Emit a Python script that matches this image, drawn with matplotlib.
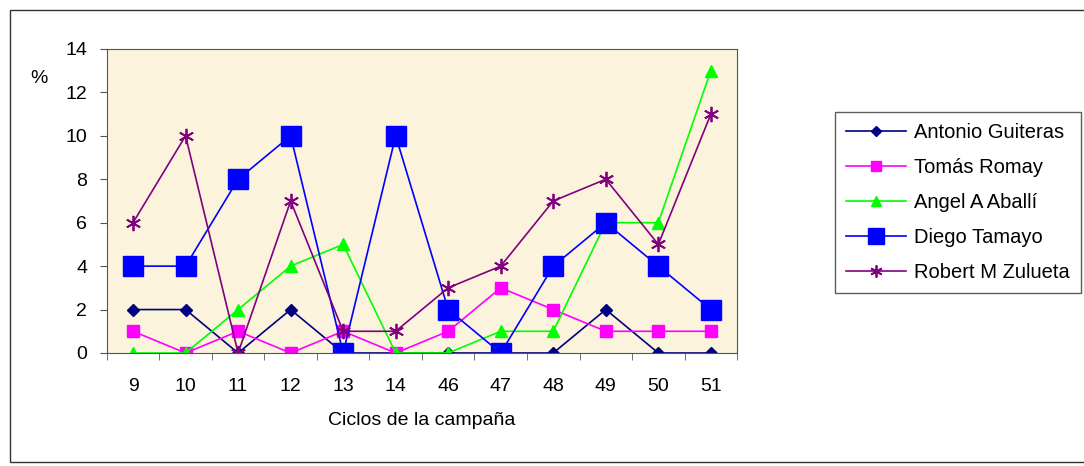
import numpy as np
import matplotlib
matplotlib.use("Agg")
import matplotlib.pyplot as plt
from matplotlib.patches import Rectangle

plt.rcParams['font.family'] = ['Liberation Sans', 'DejaVu Sans']

# data
ciclos = ['9', '10', '11', '12', '13', '14', '46', '47', '48', '49', '50', '51']
antonio = [2, 2, 0, 2, 0, 0, 0, 0, 0, 2, 0, 0]
tomas = [1, 0, 1, 0, 1, 0, 1, 3, 2, 1, 1, 1]
angel = [0, 0, 2, 4, 5, 0, 0, 1, 1, 6, 6, 13]
diego = [4, 4, 8, 10, 0, 10, 2, 0, 4, 6, 4, 2]
robert = [6, 10, 0, 7, 1, 1, 3, 4, 7, 8, 5, 11]

fig = plt.figure(figsize=(10.84, 4.66), dpi=100)
ax = fig.add_axes([0.0985, 0.2425, 0.5815, 0.6525])
ax.set_facecolor('#fbf3dc')

# outer chart frame
fig.patches.append(Rectangle((0.009, 0.008), 1.2, 0.97, transform=fig.transFigure,
                             fill=False, edgecolor='#333333', lw=1.0))

x = np.arange(len(ciclos)) + 0.5
ax.plot(x, antonio, color='#000080', marker='D', ms=6.5, lw=1.2, label='Antonio Guiteras')
ax.plot(x, tomas, color='#ff00ff', marker='s', ms=9, lw=1.2, label='Tomás Romay')
ax.plot(x, angel, color='#00ff00', marker='^', ms=9, lw=1.2, label='Angel A Aballí')
ax.plot(x, diego, color='#0000ff', marker='s', ms=14, lw=1.2, label='Diego Tamayo')
ax.plot(x, robert, color='#800080', marker=(6, 2, 0), ms=11, mew=1.3, lw=1.2,
        label='Robert M Zulueta')

ax.set_xlim(0, len(ciclos))
ax.set_ylim(0, 14)
ax.set_yticks(range(0, 15, 2))
ax.set_xticks(x)
ax.set_xticklabels(ciclos)
ax.set_xticks(np.arange(len(ciclos) + 1), minor=True)
ax.tick_params(axis='x', which='major', length=0, pad=18, labelsize=14)
ax.tick_params(axis='x', which='minor', length=5, direction='out', color='#555555')
ax.tick_params(axis='y', length=5, direction='out', labelsize=14, pad=9, color='#555555')
for s in ax.spines.values():
    s.set_color('#555555')

ax.set_xlabel('Ciclos de la campaña', fontsize=14, labelpad=12)
fig.text(0.028, 0.822, '%', fontsize=14)

leg = fig.legend(loc='upper left', bbox_to_anchor=(0.770, 0.76), frameon=True,
                 fancybox=False, edgecolor='#333333', fontsize=14.5,
                 handlelength=3.0, handletextpad=0.4, labelspacing=0.8,
                 borderpad=0.55, borderaxespad=0, markerscale=0.8)
leg.get_frame().set_linewidth(1.0)

fig.savefig('out.png', dpi=100)
